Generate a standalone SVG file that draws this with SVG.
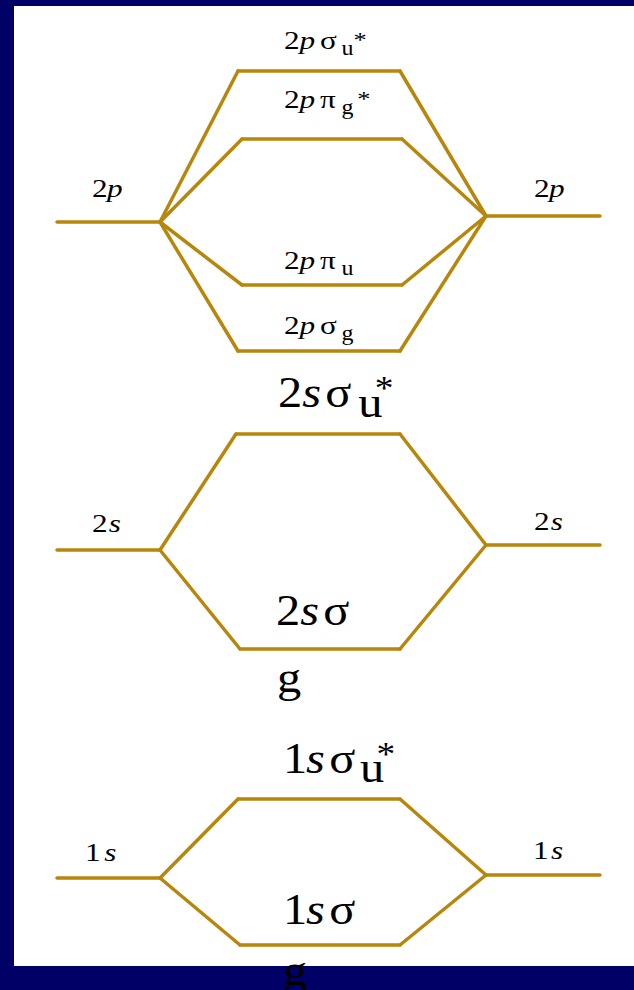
<svg xmlns="http://www.w3.org/2000/svg" width="634" height="990" viewBox="0 0 634 990">
<style>
.lv{stroke:#B8860B;stroke-width:3.5;fill:none;stroke-linecap:round;stroke-linejoin:round}
.t{font-family:"Liberation Serif","Times New Roman",serif;fill:#000}
.sm{font-size:26px}
.bg{font-size:44px}
.i{font-style:italic}
</style>
<rect x="0" y="0" width="634" height="990" fill="#000066"/>
<rect x="14" y="6" width="620" height="960" fill="#ffffff"/>

<g id="connectors" class="lv">
<path d="M160,222 L238,71 M400,71 L486,216"/>
<path d="M160,222 L242,139 M402,139 L486,216"/>
<path d="M160,222 L242,285 M402,285 L486,216"/>
<path d="M160,222 L238,351 M400,351 L486,216"/>
<path d="M160,550 L236,434 M400,434 L486,545"/>
<path d="M160,550 L240,649 M400,649 L486,545"/>
<path d="M160,878 L238,799 M400,799 L486,875"/>
<path d="M160,878 L240,945 M400,945 L486,875"/>
</g>

<g id="L2p">
<path class="lv" d="M57,222 H160"/>
<text class="t sm" transform="translate(92,197) scale(1.2,1)"><tspan x="0">2</tspan><tspan class="i" x="12.5">p</tspan></text>
</g>
<g id="R2p">
<path class="lv" d="M486,216 H600"/>
<text class="t sm" transform="translate(534,197) scale(1.2,1)"><tspan x="0">2</tspan><tspan class="i" x="12.5">p</tspan></text>
</g>
<g id="sigma2pu">
<path class="lv" d="M238,71 H400"/>
<text class="t sm" transform="translate(284,49) scale(1.2,1)"><tspan x="0" y="0">2</tspan><tspan class="i" x="13" y="0">p</tspan><tspan x="30" y="0">σ</tspan><tspan x="48" y="6" font-size="20">u</tspan><tspan x="58" y="-2" font-size="22">*</tspan></text>
</g>
<g id="pi2pg">
<path class="lv" d="M242,139 H402"/>
<text class="t sm" transform="translate(284,108) scale(1.2,1)"><tspan x="0" y="0">2</tspan><tspan class="i" x="13" y="0">p</tspan><tspan x="30" y="0">π</tspan><tspan x="48" y="6" font-size="20">g</tspan><tspan x="61" y="-2" font-size="22">*</tspan></text>
</g>
<g id="pi2pu">
<path class="lv" d="M242,285 H402"/>
<text class="t sm" transform="translate(284,269) scale(1.2,1)"><tspan x="0" y="0">2</tspan><tspan class="i" x="13" y="0">p</tspan><tspan x="30" y="0">π</tspan><tspan x="48" y="6" font-size="20">u</tspan></text>
</g>
<g id="sigma2pg">
<path class="lv" d="M238,351 H400"/>
<text class="t sm" transform="translate(284,334) scale(1.2,1)"><tspan x="0" y="0">2</tspan><tspan class="i" x="13" y="0">p</tspan><tspan x="30" y="0">σ</tspan><tspan x="48" y="6" font-size="20">g</tspan></text>
</g>

<g id="L2s">
<path class="lv" d="M57,550 H160"/>
<text class="t sm" transform="translate(92,532) scale(1.2,1)"><tspan x="0">2</tspan><tspan class="i" x="14">s</tspan></text>
</g>
<g id="R2s">
<path class="lv" d="M486,545 H600"/>
<text class="t sm" transform="translate(534,530) scale(1.2,1)"><tspan x="0">2</tspan><tspan class="i" x="14">s</tspan></text>
</g>
<g id="sigma2su">
<path class="lv" d="M236,434 H400"/>
<text class="t bg" transform="translate(278,407) scale(1.1,1)"><tspan x="0" y="0">2</tspan><tspan class="i" x="22" y="0">s</tspan><tspan x="43" y="0">σ</tspan><tspan x="73" y="10">u</tspan><tspan x="88" y="-8" font-size="34">*</tspan></text>
</g>
<g id="sigma2sg">
<path class="lv" d="M240,649 H400"/>
<text class="t bg" transform="translate(276,625) scale(1.1,1)"><tspan x="0" y="0">2</tspan><tspan class="i" x="22" y="0">s</tspan><tspan x="43" y="0">σ</tspan><tspan x="1" y="67">g</tspan></text>
</g>

<g id="L1s">
<path class="lv" d="M57,878 H160"/>
<text class="t sm" transform="translate(85,861) scale(1.2,1)"><tspan x="0">1</tspan><tspan class="i" x="16">s</tspan></text>
</g>
<g id="R1s">
<path class="lv" d="M486,875 H600"/>
<text class="t sm" transform="translate(533,859) scale(1.2,1)"><tspan x="0">1</tspan><tspan class="i" x="15">s</tspan></text>
</g>
<g id="sigma1su">
<path class="lv" d="M238,799 H400"/>
<text class="t bg" transform="translate(283,773) scale(1.1,1)"><tspan x="0" y="0">1</tspan><tspan class="i" x="21" y="0">s</tspan><tspan x="42" y="0">σ</tspan><tspan x="70" y="9">u</tspan><tspan x="85" y="-8" font-size="34">*</tspan></text>
</g>
<g id="sigma1sg">
<path class="lv" d="M240,945 H400"/>
<text class="t bg" transform="translate(283,924) scale(1.1,1)"><tspan x="0" y="0">1</tspan><tspan class="i" x="21" y="0">s</tspan><tspan x="42" y="0">σ</tspan><tspan x="0" y="61">g</tspan></text>
</g>
</svg>
